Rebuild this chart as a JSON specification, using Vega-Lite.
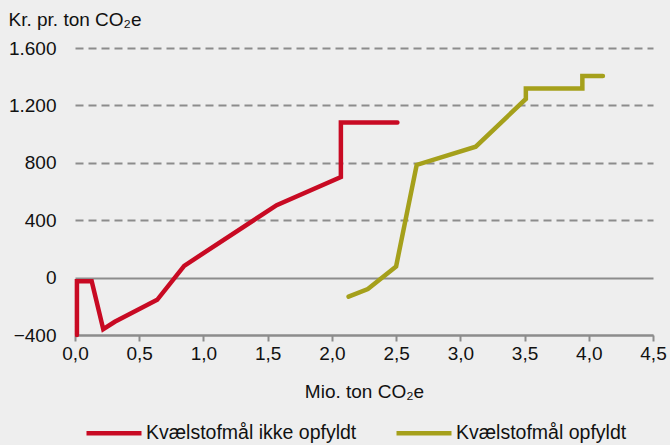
{
  "$schema": "https://vega.github.io/schema/vega-lite/v6.json",
  "width": 578,
  "height": 287,
  "autosize": {"type": "none"},
  "padding": {"left": 75, "top": 48, "right": 17, "bottom": 110},
  "background": "#eeeeee",
  "config": {
    "view": {"stroke": null},
    "font": "Liberation Sans",
    "locale": {"number": {"decimal": ",", "thousands": ".", "grouping": [3], "currency": ["", " kr."]}}
  },
  "data": {
    "values": [
      {"serie": "Kvælstofmål ikke opfyldt", "i": 1, "x": 0.015, "y": -400},
      {"serie": "Kvælstofmål ikke opfyldt", "i": 2, "x": 0.015, "y": -25},
      {"serie": "Kvælstofmål ikke opfyldt", "i": 3, "x": 0.13, "y": -25},
      {"serie": "Kvælstofmål ikke opfyldt", "i": 4, "x": 0.22, "y": -360},
      {"serie": "Kvælstofmål ikke opfyldt", "i": 5, "x": 0.31, "y": -308},
      {"serie": "Kvælstofmål ikke opfyldt", "i": 6, "x": 0.64, "y": -155},
      {"serie": "Kvælstofmål ikke opfyldt", "i": 7, "x": 0.85, "y": 82},
      {"serie": "Kvælstofmål ikke opfyldt", "i": 8, "x": 1.57, "y": 505},
      {"serie": "Kvælstofmål ikke opfyldt", "i": 9, "x": 2.07, "y": 700},
      {"serie": "Kvælstofmål ikke opfyldt", "i": 10, "x": 2.07, "y": 1080},
      {"serie": "Kvælstofmål ikke opfyldt", "i": 11, "x": 2.51, "y": 1080},
      {"serie": "Kvælstofmål opfyldt", "i": 1, "x": 2.13, "y": -133},
      {"serie": "Kvælstofmål opfyldt", "i": 2, "x": 2.28, "y": -80},
      {"serie": "Kvælstofmål opfyldt", "i": 3, "x": 2.5, "y": 78},
      {"serie": "Kvælstofmål opfyldt", "i": 4, "x": 2.66, "y": 785},
      {"serie": "Kvælstofmål opfyldt", "i": 5, "x": 3.12, "y": 912},
      {"serie": "Kvælstofmål opfyldt", "i": 6, "x": 3.51, "y": 1245},
      {"serie": "Kvælstofmål opfyldt", "i": 7, "x": 3.51, "y": 1318},
      {"serie": "Kvælstofmål opfyldt", "i": 8, "x": 3.95, "y": 1318},
      {"serie": "Kvælstofmål opfyldt", "i": 9, "x": 3.95, "y": 1405},
      {"serie": "Kvælstofmål opfyldt", "i": 10, "x": 4.11, "y": 1405}
    ]
  },
  "mark": {"type": "line", "strokeWidth": 4.5, "strokeCap": "round", "strokeJoin": "miter", "clip": false},
  "encoding": {
    "x": {
      "field": "x", "type": "quantitative",
      "scale": {"domain": [0, 4.5], "nice": false, "zero": false},
      "axis": {
        "title": "Mio. ton CO₂e",
        "values": [0, 0.5, 1, 1.5, 2, 2.5, 3, 3.5, 4, 4.5],
        "format": ".1f",
        "grid": false,
        "domainColor": "#8c8c8c", "domainWidth": 2,
        "tickColor": "#8c8c8c", "tickWidth": 2, "tickSize": 6,
        "labelFont": "Liberation Sans", "labelFontSize": 19, "labelColor": "#111111",
        "labelPadding": 3, "labelFlush": false,
        "titleFont": "Liberation Sans", "titleFontSize": 19, "titleFontWeight": "normal", "titleColor": "#111111",
        "titlePadding": 19
      }
    },
    "y": {
      "field": "y", "type": "quantitative",
      "scale": {"domain": [-400, 1600], "nice": false, "zero": false},
      "axis": {
        "values": [-400, 0, 400, 800, 1200, 1600],
        "format": ",d",
        "domain": false, "ticks": false,
        "grid": true,
        "gridColor": "#8c8c8c", "gridWidth": 2,
        "gridDash": {"condition": {"test": "datum.value <= 0", "value": []}, "value": [8, 5]},
        "labelFont": "Liberation Sans", "labelFontSize": 19, "labelColor": "#111111",
        "labelPadding": 19,
        "title": "Kr. pr. ton CO₂e",
        "titleAngle": 0, "titleAlign": "left", "titleBaseline": "alphabetic",
        "titleX": -67, "titleY": -23,
        "titleFont": "Liberation Sans", "titleFontSize": 19, "titleFontWeight": "normal", "titleColor": "#111111"
      }
    },
    "color": {
      "field": "serie", "type": "nominal",
      "scale": {"domain": ["Kvælstofmål ikke opfyldt", "Kvælstofmål opfyldt"], "range": ["#c80a23", "#a5a01b"]},
      "legend": {
        "title": null,
        "orient": "none", "direction": "horizontal",
        "legendX": 9, "legendY": 355,
        "symbolType": "stroke", "symbolSize": 3025, "symbolStrokeWidth": 4.5,
        "labelFont": "Liberation Sans", "labelFontSize": 19.5, "labelColor": "#111111",
        "labelLimit": 0,
        "labelOffset": 2, "columnPadding": 30, "padding": 0
      }
    },
    "order": {"field": "i", "type": "quantitative"}
  }
}
